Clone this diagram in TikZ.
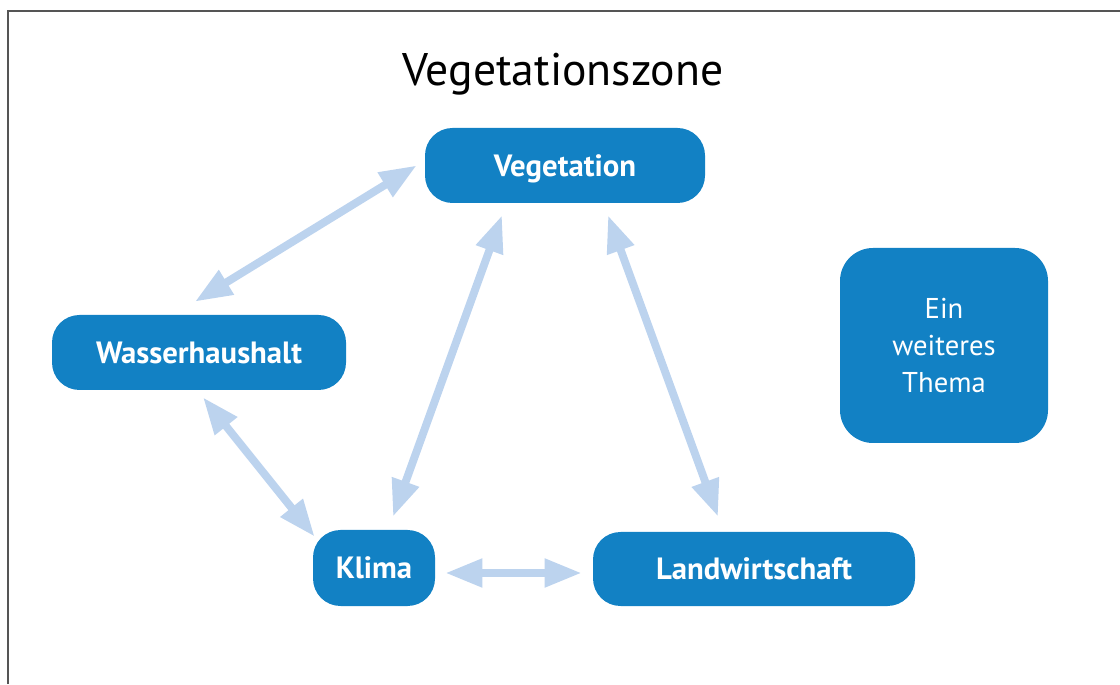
\documentclass[tikz,border=0pt]{standalone}
\usepackage{fontspec}
\setmainfont{PT Sans}
\usetikzlibrary{arrows.meta}

\begin{document}
\begin{tikzpicture}[line cap=butt,
  topic/.style={fill=zoneblue,text=white,rounded corners=0.55cm,inner sep=0pt,
    font=\fontsize{17.5}{21}\selectfont\bfseries},
  link/.style={linkblue,line width=4.5pt,
    {Triangle[length=0.74cm,width=0.54cm]}-{Triangle[length=0.74cm,width=0.54cm]}}]
\definecolor{zoneblue}{HTML}{1281C4}
\definecolor{linkblue}{HTML}{BCD3EE}
\definecolor{framegray}{HTML}{555555}
\useasboundingbox (0,0) rectangle (22.4,13.68);
\draw[framegray,line width=1.1pt] (0.16,0) -- (0.16,13.46) -- (22.4,13.46);
\node[anchor=base,font=\fontsize{26}{30}\selectfont] (title) at (11.26,11.97) {Vegetationszone};
\node[topic,text depth=0pt,minimum width=5.6cm,minimum height=1.5cm] (veg) at (11.30,10.37) {Vegetation};
\node[topic,minimum width=5.88cm,minimum height=1.5cm] (wass) at (3.98,6.63) {Wasserhaushalt};
\node[topic,minimum width=2.44cm,minimum height=1.52cm] (klima) at (7.48,2.32) {Klima};
\node[topic,minimum width=6.44cm,minimum height=1.48cm] (land) at (15.08,2.30) {Landwirtschaft};
\node[topic,minimum width=4.16cm,minimum height=3.9cm,rounded corners=0.66cm,align=center,
  font=\fontsize{16.3}{21}\selectfont] (thema) at (18.88,6.77) {Ein\\weiteres\\Thema};
\draw[link] ([xshift=-0.16cm]veg.west) -- ([shift={(-0.08,0.26)}]wass.north);
\draw[link] ([shift={(-1.26,-0.24)}]veg.south) -- ([shift={(0.38,0.26)}]klima.north);
\draw[link] ([shift={(0.86,-0.24)}]veg.south) -- ([shift={(-0.72,0.30)}]land.north);
\draw[link] ([shift={(0.08,-0.14)}]wass.south) -- ([shift={(0.04,-0.14)}]klima.north west);
\draw[link] ([shift={(0.20,-0.10)}]klima.east) -- ([shift={(-0.22,-0.08)}]land.west);
\end{tikzpicture}
\end{document}
